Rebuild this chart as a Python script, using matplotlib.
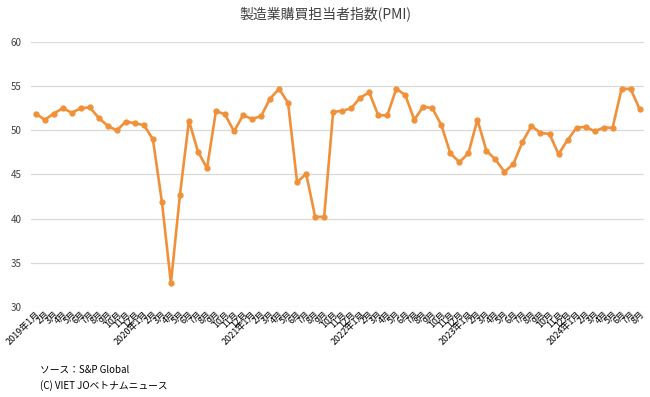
import matplotlib
matplotlib.use("Agg")
import matplotlib.pyplot as plt

plt.rcParams['font.family'] = ['Noto Sans CJK JP', 'DejaVu Sans']

# monthly PMI, 2019/1 .. 2024/8
years = [2019, 2020, 2021, 2022, 2023, 2024]
pmi = [
    51.9, 51.2, 51.9, 52.5, 52.0, 52.5, 52.6, 51.4, 50.5, 50.0, 51.0, 50.8,   # 2019
    50.6, 49.0, 41.9, 32.7, 42.7, 51.1, 47.6, 45.7, 52.2, 51.8, 49.9, 51.7,   # 2020
    51.3, 51.6, 53.6, 54.7, 53.1, 44.1, 45.1, 40.2, 40.2, 52.1, 52.2, 52.5,   # 2021
    53.7, 54.3, 51.7, 51.7, 54.7, 54.0, 51.2, 52.7, 52.5, 50.6, 47.4, 46.4,   # 2022
    47.4, 51.2, 47.7, 46.7, 45.3, 46.2, 48.7, 50.5, 49.7, 49.6, 47.3, 48.9,   # 2023
    50.3, 50.4, 49.9, 50.3, 50.3, 54.7, 54.7, 52.4,                           # 2024
]

labels = []
for i in range(len(pmi)):
    y = years[i // 12]
    m = i % 12 + 1
    if m == 1:
        labels.append(f"{y}年{m}月")
    else:
        labels.append(f"{m}月")

fig = plt.figure(figsize=(6.5, 3.97), dpi=100)
ax = fig.add_axes([0.048, 0.227, 0.943, 0.667])

x = list(range(len(pmi)))
ax.plot(x, pmi, color='#F0913A', lw=1.9, marker='o', ms=3.5, zorder=3)

ax.set_ylim(30, 60)
ax.set_yticks([30, 35, 40, 45, 50, 55, 60])
ax.set_xlim(-0.5, len(pmi) - 0.5)
ax.set_xticks(x)
ax.set_xticklabels(labels, rotation=45, ha='right', rotation_mode='anchor', fontsize=6.5)
ax.tick_params(axis='x', length=0, pad=2)
ax.tick_params(axis='y', length=0, labelsize=7, colors='#404040', pad=7)
ax.grid(axis='y', color='#d9d9d9', lw=0.9)
ax.set_axisbelow(True)
for s in ax.spines.values():
    s.set_visible(False)

fig.text(0.5, 0.965, "製造業購買担当者指数(PMI)", ha='center', va='center', fontsize=10, color='#404040')
fig.text(0.062, 0.068, "ソース：S&P Global", fontsize=7, va='center')
fig.text(0.062, 0.030, "(C) VIET JOベトナムニュース", fontsize=7, va='center')

fig.savefig("out.png", dpi=100)
